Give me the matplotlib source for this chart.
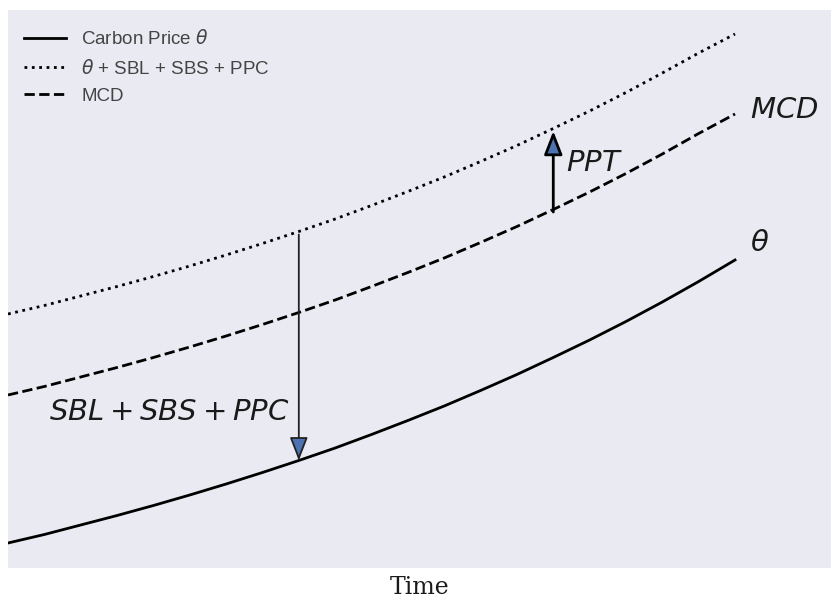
import matplotlib
matplotlib.use("Agg")
import matplotlib.pyplot as plt

# Time axis (arbitrary units) and curves
time = [0.0, 0.5, 1.0, 1.5, 2.0, 2.5, 3.0, 3.5, 4.0, 4.5, 5.0,
        5.5, 6.0, 6.5, 7.0, 7.5, 8.0, 8.5, 9.0, 9.5, 10.0]
carbon_price = [0.50, 0.67, 0.86, 1.05, 1.25, 1.46, 1.68, 1.91, 2.15, 2.40, 2.67,
                2.95, 3.24, 3.55, 3.87, 4.21, 4.56, 4.93, 5.32, 5.73, 6.16]
mcd = [3.46, 3.63, 3.82, 4.01, 4.21, 4.42, 4.64, 4.87, 5.11, 5.36, 5.63,
       5.91, 6.20, 6.51, 6.83, 7.17, 7.52, 7.89, 8.28, 8.69, 9.08]
upper = [5.08, 5.25, 5.44, 5.63, 5.83, 6.04, 6.26, 6.49, 6.73, 6.98, 7.25,
         7.53, 7.82, 8.13, 8.45, 8.79, 9.14, 9.51, 9.90, 10.30, 10.68]

legend_labels = [r"Carbon Price $\theta$", r"$\theta$ + SBL + SBS + PPC", "MCD"]

# arrow positions (indices into time)
big_idx = 8     # t = 4
ppt_idx = 15    # t = 7.5

plt.rcParams['font.family'] = ['Liberation Sans', 'DejaVu Sans']

fig = plt.figure(figsize=(8.31, 6.02), dpi=100)
ax = fig.add_axes([8/831, 34/602, 823/831, 558/602])
ax.set_facecolor('#EAEAF2')
for s in ax.spines.values():
    s.set_visible(False)

ax.plot(time, carbon_price, color='k', lw=2, ls='-', label=legend_labels[0])
ax.plot(time, upper, color='k', lw=2, ls=':', label=legend_labels[1])
ax.plot(time, mcd, color='k', lw=2, ls='--', label=legend_labels[2])

ax.set_xlim(0, 11.32)
ax.set_ylim(0, 11.16)
ax.set_xticks([])
ax.set_yticks([])

blue = '#4C72B0'
t_big = time[big_idx]
ax.annotate('', xy=(t_big, carbon_price[big_idx]), xytext=(t_big, upper[big_idx] - 0.06),
            arrowprops=dict(arrowstyle='-|>,head_width=0.35,head_length=0.9',
                            fc=blue, ec='#222222', lw=1.3, mutation_scale=16,
                            shrinkA=0, shrinkB=0))
t_ppt = time[ppt_idx]
ax.annotate('', xy=(t_ppt, upper[ppt_idx] - 0.05), xytext=(t_ppt, mcd[ppt_idx] - 0.05),
            arrowprops=dict(arrowstyle='-|>,head_width=0.35,head_length=0.9',
                            fc=blue, ec='k', lw=2, mutation_scale=16,
                            shrinkA=0, shrinkB=0))

fs = 21
ax.text(2.22, 3.12, r'$SBL + SBS + PPC$', fontsize=fs, ha='center', va='center', color='#1a1a1a')
ax.text(7.68, 8.1, r'$PPT$', fontsize=fs, ha='left', va='center', color='#1a1a1a')
ax.text(10.2, 9.16, r'$MCD$', fontsize=fs, ha='left', va='center', color='#1a1a1a')
ax.text(10.2, 6.5, r'$\theta$', fontsize=fs, ha='left', va='center', color='#1a1a1a')

leg = ax.legend(loc='upper left', bbox_to_anchor=(0, 0.994), frameon=False,
                fontsize=13.5, handlelength=2.25, handletextpad=0.8,
                labelspacing=0.55, borderaxespad=0.45)
for t in leg.get_texts():
    t.set_color('#444444')

ax.set_xlabel('Time', family='DejaVu Serif', fontsize=17, color='#1a1a1a', labelpad=6)

fig.savefig('out.png', dpi=100)
